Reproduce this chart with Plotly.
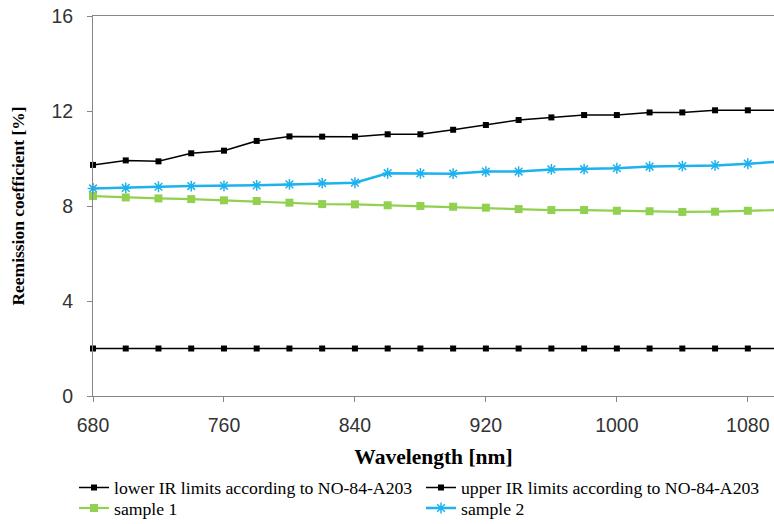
import plotly.graph_objects as go

wavelength = [680, 700, 720, 740, 760, 780, 800, 820, 840, 860, 880, 900, 920, 940, 960, 980, 1000, 1020, 1040, 1060, 1080, 1100]
lower_limit = [2.0] * 22
upper_limit = [9.73, 9.92, 9.88, 10.22, 10.33, 10.74, 10.93, 10.92, 10.92, 11.02, 11.02, 11.21, 11.41, 11.62, 11.73, 11.83, 11.83, 11.94, 11.94, 12.03, 12.03, 12.03]
sample1 = [8.42, 8.36, 8.32, 8.29, 8.24, 8.21, 8.14, 8.08, 8.07, 8.03, 8.00, 7.97, 7.93, 7.87, 7.83, 7.83, 7.80, 7.78, 7.75, 7.76, 7.80, 7.83]
sample2 = [8.74, 8.76, 8.81, 8.84, 8.85, 8.87, 8.91, 8.96, 8.98, 9.38, 9.37, 9.36, 9.45, 9.45, 9.54, 9.55, 9.59, 9.66, 9.68, 9.71, 9.78, 9.87]

x_ticks = [680, 760, 840, 920, 1000, 1080]
y_ticks = [0, 4, 8, 12, 16]

W, H = 774, 524

fig = go.Figure()
fig.add_trace(go.Scatter(x=wavelength, y=lower_limit, mode="lines+markers",
                         name="lower IR limits according to NO-84-A203", legend="legend",
                         line=dict(color="#000000", width=1.5),
                         marker=dict(symbol="square", size=6, color="#000000"),
                         cliponaxis=False))
fig.add_trace(go.Scatter(x=wavelength, y=upper_limit, mode="lines+markers",
                         name="upper IR limits according to NO-84-A203", legend="legend3",
                         line=dict(color="#000000", width=1.5),
                         marker=dict(symbol="square", size=6, color="#000000"),
                         cliponaxis=False))
fig.add_trace(go.Scatter(x=wavelength, y=sample1, mode="lines+markers",
                         name="sample 1", legend="legend2",
                         line=dict(color="#92D050", width=2.2),
                         marker=dict(symbol="square", size=8, color="#92D050"),
                         cliponaxis=False))
fig.add_trace(go.Scatter(x=wavelength, y=sample2, mode="lines+markers",
                         name="sample 2", legend="legend4",
                         line=dict(color="#1CB2EE", width=2.5),
                         marker=dict(symbol="asterisk-open", size=9,
                                     line=dict(color="#1CB2EE", width=1.5)),
                         cliponaxis=False))

legend_font = dict(family="Liberation Serif", size=17.7, color="#000000")
common_legend = dict(orientation="h", xref="container", yref="container",
                     xanchor="left", yanchor="middle",
                     font=legend_font, itemwidth=30,
                     bgcolor="rgba(0,0,0,0)")
col1_x = 74 / W
col2_x = 421 / W
row1_y = 1 - 488 / H
row2_y = 1 - 508.5 / H

fig.update_layout(
    width=W, height=H,
    margin=dict(l=93, r=0, t=16, b=128),
    paper_bgcolor="white", plot_bgcolor="white",
    font=dict(family="Liberation Serif", size=17.7, color="#000000"),
    showlegend=True,
    legend=dict(common_legend, x=col1_x, y=row1_y),
    legend3=dict(common_legend, x=col2_x, y=row1_y),
    legend2=dict(common_legend, x=col1_x, y=row2_y),
    legend4=dict(common_legend, x=col2_x, y=row2_y),
    xaxis=dict(range=[680, 1096], tickvals=x_ticks, ticks="outside", ticklen=5,
               tickcolor="#868686", showline=True, linecolor="#868686", linewidth=1,
               mirror=True, automargin=False,
               showgrid=False, zeroline=False, ticklabelstandoff=7,
               tickfont=dict(family="Liberation Sans", size=19.5, color="#333333"),
               title=dict(text="<b>Wavelength [nm]</b>", standoff=27,
                          font=dict(family="Liberation Serif", size=21.5, color="#000000"))),
    yaxis=dict(range=[0, 16], tickvals=y_ticks, ticks="outside", ticklen=5,
               tickcolor="#868686", showline=True, linecolor="#868686", linewidth=1,
               automargin=False,
               showgrid=False, zeroline=False, ticklabelstandoff=10,
               tickfont=dict(family="Liberation Sans", size=19.5, color="#333333"),
               title=dict(text="<b>Reemission coefficient [%]</b>", standoff=22,
                          font=dict(family="Liberation Serif", size=17.5, color="#000000"))),
)

post = ("document.body.style.margin='0';document.body.style.overflow='hidden';"
        "var gd=document.getElementById('{plot_id}');"
        "Plotly.relayout(gd,{width:%d,height:%d});" % (W, H))
fig.write_html("out.html", post_script=post, config={"displayModeBar": False})
